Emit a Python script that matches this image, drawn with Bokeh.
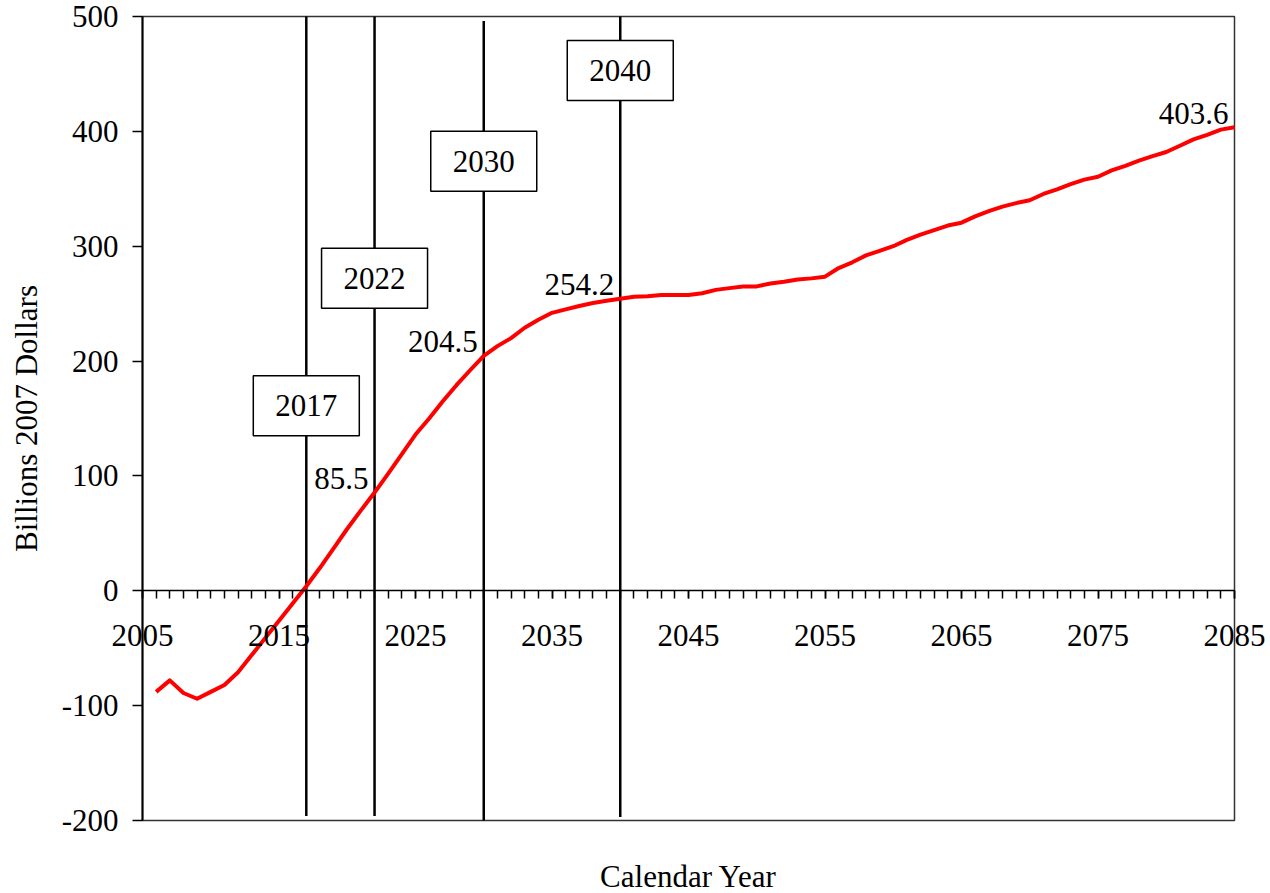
from bokeh.plotting import figure
from bokeh.models import LinearAxis, FixedTicker, Range1d, Label
from bokeh.core.properties import value
from bokeh.embed import file_html
from bokeh.resources import INLINE

# ---- data ----
years = list(range(2006, 2086))
values = [
    -88, -78, -89, -94, -88, -82, -71, -56, -41, -26,      # 2006-2015
    -11, 4, 20, 37, 54, 70, 85.5, 102, 119, 136,           # 2016-2025
    150, 165, 179, 192, 204.5, 213, 220, 229, 236, 242,    # 2026-2035
    245, 248, 250.5, 252.5, 254.2, 256, 256.5, 257.5, 257.5, 257.5,  # 2036-2045
    259, 262, 263.5, 265, 265, 267.5, 269, 271, 272, 273.5,          # 2046-2055
    281, 286, 292, 296, 300, 305.5, 310, 314, 318, 320.5,            # 2056-2065
    326, 330.5, 334.5, 337.5, 340, 345.5, 349.5, 354, 358, 360.5,    # 2066-2075
    366, 370, 374.5, 378.5, 382, 387.5, 393, 397, 401.5, 403.6,      # 2076-2085
]
labelled_years = [2022, 2030, 2040, 2085]
labelled_values = [values[years.index(y)] for y in labelled_years]
labelled_texts = ["85.5", "204.5", "254.2", "403.6"]

marker_years = [2017, 2022, 2030, 2040]
marker_texts = ["2017", "2022", "2030", "2040"]
marker_line_top = [500, 500, 496, 500]
marker_line_bottom = [-196, -196, -200, -197]
marker_box_y = [161, 272, 374, 453]

x_major_ticks = [2005, 2015, 2025, 2035, 2045, 2055, 2065, 2075, 2085]
x_minor_ticks = list(range(2005, 2086))
y_ticks = [-200, -100, 0, 100, 200, 300, 400, 500]
y_tick_labels = {-200: "-200", -100: "-100", 0: "0", 100: "100", 200: "200",
                 300: "300", 400: "400", 500: "500"}

X_MIN, X_MAX = 2005, 2085
Y_MIN, Y_MAX = -200, 500

# ---- layout (pixels) ----
W, H = 1270, 893
BOX_L, BOX_R, BOX_T, BOX_B = 142, 1234, 16, 820
sx = (BOX_R - BOX_L) / (X_MAX - X_MIN)
sy = (BOX_B - BOX_T) / (Y_MAX - Y_MIN)
x_range = Range1d(X_MIN - BOX_L / sx, X_MAX + (W - BOX_R) / sx)
y_range = Range1d(Y_MIN - (H - BOX_B) / sy, Y_MAX + BOX_T / sy)

FONT = "Liberation Serif"
FS = "31px"

p = figure(width=W, height=H, x_range=x_range, y_range=y_range,
           x_axis_type=None, y_axis_type=None,
           output_backend="svg", toolbar_location=None,
           min_border=0)
p.background_fill_color = "white"
p.border_fill_color = "white"
p.outline_line_color = None
p.grid.visible = False

# plot box
p.quad(left=[X_MIN], right=[X_MAX], bottom=[Y_MIN], top=[Y_MAX],
       fill_color=None, line_color="#333333", line_width=1.5)

# y axis at x = 2005
ya = LinearAxis(fixed_location=X_MIN, bounds=(Y_MIN, Y_MAX),
                ticker=FixedTicker(ticks=y_ticks, minor_ticks=[]))
ya.major_label_overrides = y_tick_labels
ya.axis_line_color = "black"
ya.axis_line_width = 2
ya.major_tick_line_color = "black"
ya.major_tick_line_width = 1.5
ya.major_tick_out = 10
ya.major_tick_in = 0
ya.minor_tick_line_color = None
ya.major_label_standoff = 14
ya.major_label_text_font = FONT
ya.major_label_text_font_size = FS
ya.major_label_text_color = "black"
ya.axis_label = "Billions 2007 Dollars"
ya.axis_label_text_font = FONT
ya.axis_label_text_font_size = FS
ya.axis_label_text_font_style = "normal"
ya.axis_label_text_color = "black"
ya.axis_label_standoff = 15
p.add_layout(ya, "left")

# x axis at y = 0
xa = LinearAxis(fixed_location=0, bounds=(X_MIN, X_MAX),
                ticker=FixedTicker(ticks=x_major_ticks, minor_ticks=x_minor_ticks))
xa.axis_line_color = "black"
xa.axis_line_width = 1.5
xa.major_tick_line_color = "black"
xa.major_tick_line_width = 1.5
xa.major_tick_out = 8
xa.major_tick_in = 0
xa.minor_tick_line_color = "black"
xa.minor_tick_line_width = 1.5
xa.minor_tick_out = 8
xa.minor_tick_in = 0
xa.major_label_standoff = 26
xa.major_label_text_font = FONT
xa.major_label_text_font_size = FS
xa.major_label_text_color = "black"
p.add_layout(xa, "below")

# vertical marker lines
p.segment(x0=marker_years, y0=marker_line_bottom, x1=marker_years, y1=marker_line_top,
          line_color="black", line_width=2.5)

# data line
p.line(years, values, line_color="#FF0000", line_width=4, line_join="round")

# data labels
p.text(x=labelled_years, y=labelled_values, text=labelled_texts,
       x_offset=-6, y_offset=-14, text_align="right", text_baseline="middle",
       text_font=value(FONT), text_font_size=value(FS), text_color="black")

# year boxes
p.rect(x=marker_years, y=marker_box_y, width=106, height=60,
       width_units="screen", height_units="screen",
       fill_color="white", line_color="black", line_width=1.5)
p.text(x=marker_years, y=marker_box_y, text=marker_texts,
       text_align="center", text_baseline="middle",
       text_font=value(FONT), text_font_size=value(FS), text_color="black")

# x-axis title
p.add_layout(Label(x=(X_MIN + X_MAX) / 2, y=17, x_units="data", y_units="screen",
                   text="Calendar Year", text_align="center",
                   text_baseline="alphabetic",
                   text_font=FONT, text_font_size=FS, text_color="black"))

open("out.html", "w").write(file_html(p, INLINE))
